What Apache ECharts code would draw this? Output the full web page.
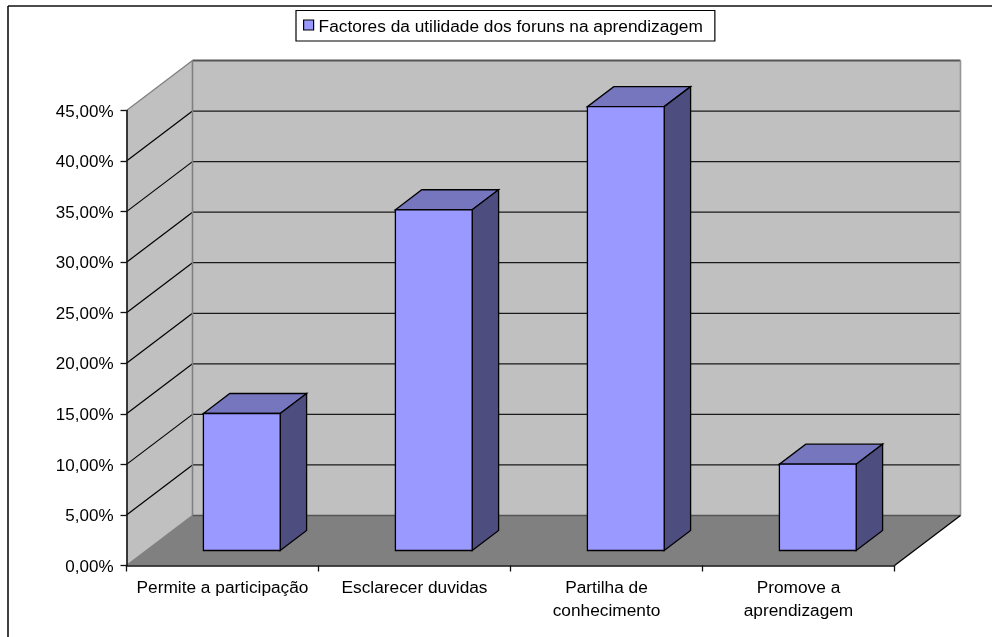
<!DOCTYPE html>
<html>
<head>
<meta charset="utf-8">
<style>html,body{margin:0;padding:0;background:#fff}#c{width:992px;height:637px}</style>
<script src="https://cdn.jsdelivr.net/npm/echarts@6/dist/echarts.min.js"></script>
</head>
<body>
<div id="c"></div>
<script>
const categories = ['Permite a participação', 'Esclarecer duvidas', 'Partilha de\nconhecimento', 'Promove a\naprendizagem'];
const values = [13.55, 33.7, 43.9, 8.54];
const seriesName = 'Factores da utilidade dos foruns na aprendizagem';
const yMax = 45;
const yStep = 5;
const depthX = 66, depthY = -50;
const font = '"Liberation Sans", Arial, sans-serif';

function poly(points, fill, stroke, lw) {
  return { type: 'polygon', shape: { points }, style: { fill, stroke, lineWidth: lw == null ? 1.3 : lw, lineJoin: 'miter' } };
}
function seg(a, b, stroke, lw) {
  return { type: 'line', shape: { x1: a[0], y1: a[1], x2: b[0], y2: b[1] }, style: { stroke, lineWidth: lw == null ? 1.2 : lw } };
}
function back(p) { return [p[0] + depthX, p[1] + depthY]; }

function renderFrame(params, api) {
  const n = categories.length;
  const halfBand = api.size([1, 0])[0] / 2;
  const leftX = api.coord([0, 0])[0] - halfBand;
  const rightX = api.coord([n - 1, 0])[0] + halfBand;
  const y0 = api.coord([0, 0])[1];
  const yT = api.coord([0, yMax])[1];
  const fl = [leftX, y0], fr = [rightX, y0], tl = [leftX, yT];
  const children = [
    poly([back(tl), back([rightX, yT]), back(fr), back(fl)], '#C0C0C0', null, 0),
    poly([tl, back(tl), back(fl), fl], '#C0C0C0', null, 0),
    poly([fl, fr, back(fr), back(fl)], '#808080', null, 0)
  ];
  for (let v = yStep; v < yMax; v += yStep) {
    const y = api.coord([0, v])[1];
    children.push(seg([leftX, y], back([leftX, y]), '#000'));
    children.push(seg(back([leftX, y]), back([rightX, y]), '#1a1a1a'));
  }
  children.push(seg(tl, back(tl), '#808080', 1.3));
  children.push(seg(back(tl), back([rightX, yT]), '#555', 2));
  children.push(seg(back(tl), back(fl), '#808080', 1.6));
  children.push(seg(back([rightX, yT]), back(fr), '#969696', 1.6));
  children.push(seg(back(fl), back(fr), '#555', 1.5));
  children.push(seg(fl, back(fl), '#808080', 1.3));
  children.push(seg(fr, back(fr), '#000', 1.3));
  return { type: 'group', children };
}

function renderBar(params, api) {
  const i = api.value(0), v = api.value(1);
  const bw = api.size([1, 0])[0] * 0.4;
  const base = api.coord([i, 0]), top = api.coord([i, v]);
  const ox = depthX * 0.3 - 0.5, oy = depthY * 0.3;
  const dx = depthX * 0.4, dy = depthY * 0.4;
  const xl = base[0] + ox - bw / 2, xr = xl + bw;
  const yb = base[1] + oy, yt = top[1] + oy;
  const k = '#000';
  return {
    type: 'group',
    children: [
      poly([[xl, yt], [xr, yt], [xr + dx, yt + dy], [xl + dx, yt + dy]], '#7676BF', k),
      poly([[xr, yt], [xr + dx, yt + dy], [xr + dx, yb + dy], [xr, yb]], '#4D4D80', k),
      poly([[xl, yt], [xr, yt], [xr, yb], [xl, yb]], '#9999FF', k)
    ]
  };
}

const chart = echarts.init(document.getElementById('c'), null, { renderer: 'canvas' });
chart.setOption({
  animation: false,
  backgroundColor: '#fff',
  textStyle: { fontFamily: font },
  graphic: [
    { type: 'line', z: -1, silent: true, shape: { x1: 8, y1: 6, x2: 992, y2: 6 }, style: { stroke: '#111', lineWidth: 1.6 } },
    { type: 'line', z: -1, silent: true, shape: { x1: 8, y1: 6, x2: 8, y2: 637 }, style: { stroke: '#111', lineWidth: 1.6 } }
  ],
  legend: {
    data: [seriesName],
    left: 296, top: 10.5,
    padding: [8, 12, 5.5, 7],
    backgroundColor: '#fff',
    borderColor: '#000', borderWidth: 1.2, borderRadius: 0,
    itemWidth: 10, itemHeight: 10, itemGap: 0,
    icon: 'rect',
    itemStyle: { color: '#9999FF', borderColor: '#000', borderWidth: 1.2 },
    formatter: name => '{t|' + name + '}',
    textStyle: { color: '#000', fontSize: 17.3, fontFamily: font,
      rich: { t: { color: '#000', fontSize: 17.3, fontFamily: font, padding: [4, 0, 0, 0] } } }
  },
  grid: { left: 126.5, right: 97.5, top: 110.5, bottom: 71.5, containLabel: false },
  xAxis: {
    type: 'category', data: categories, z: 6,
    axisLine: { lineStyle: { color: '#111', width: 1.5 } },
    axisTick: { show: true, length: 6, lineStyle: { color: '#111', width: 1.3 } },
    axisLabel: { color: '#000', fontSize: 17.3, margin: 11, lineHeight: 23, interval: 0, fontFamily: font }
  },
  yAxis: {
    type: 'value', min: 0, max: yMax, interval: yStep, z: 6,
    axisLine: { show: true, lineStyle: { color: '#111', width: 1.6 } },
    axisTick: { show: true, length: 6, lineStyle: { color: '#111', width: 1.3 } },
    splitLine: { show: false },
    axisLabel: { color: '#000', fontSize: 17, margin: 13, fontFamily: font,
      formatter: v => '{t|' + v.toFixed(2).replace('.', ',') + '%}',
      rich: { t: { color: '#000', fontSize: 17, fontFamily: font, padding: [3, 0, 0, 0] } } }
  },
  series: [
    { type: 'custom', name: 'frame', z: 1, silent: true, renderItem: renderFrame, data: [[0, 0]], encode: { x: 0, y: 1 } },
    { type: 'custom', name: seriesName, z: 3, silent: true, renderItem: renderBar,
      itemStyle: { color: '#9999FF' },
      data: values.map((v, i) => [i, v]), encode: { x: 0, y: 1 } }
  ]
});
</script>
</body>
</html>
